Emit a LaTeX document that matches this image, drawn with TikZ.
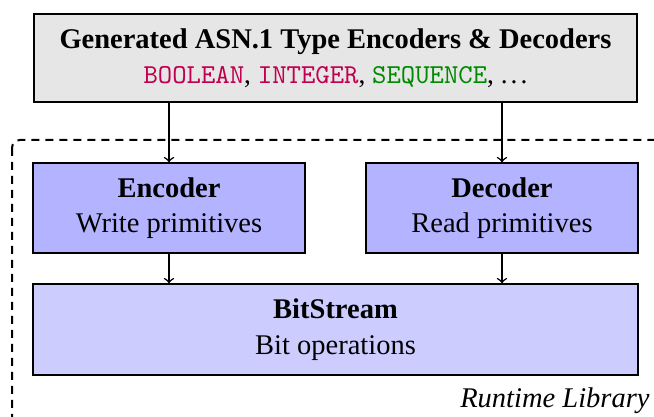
\documentclass[tikz,border=0pt,11pt]{standalone}
\usepackage{fontspec}
\setmainfont{Liberation Serif}
\setmonofont{Latin Modern Mono}
\definecolor{kwpurple}{HTML}{C0004F}
\definecolor{kwgreen}{HTML}{008A00}
\definecolor{boxgray}{HTML}{E6E6E6}
\definecolor{boxblue}{HTML}{B3B3FF}
\definecolor{boxlight}{HTML}{CCCCFF}
\newcommand\boxfont{\fontsize{11.4}{14.2}\selectfont}
\tikzset{
  blockbox/.style={draw=black, line width=0.45pt, align=center, inner sep=0pt, font=\boxfont},
  flowarrow/.style={->, line width=0.6pt},
  libframe/.style={draw=black, line width=0.8pt, dash pattern=on 3.2pt off 2.4pt, rounded corners=3.2pt}
}
\begin{document}
\begin{tikzpicture}[x=0.4pt,y=-0.4pt]
\useasboundingbox (0,0) rectangle (654,417);
\clip (0,0) rectangle (654,417);
\draw[libframe] (12,140) rectangle (680,440);
\node[blockbox, fill=boxgray, minimum width=241.2pt, minimum height=35.2pt] (gen) at (335.5,58)
  {\textbf{Generated ASN.1 Type Encoders \& Decoders}\\
   {\fontsize{10.95}{14.2}\selectfont\texttt{\textcolor{kwpurple}{BOOLEAN}}, \texttt{\textcolor{kwpurple}{INTEGER}}, \texttt{\textcolor{kwgreen}{SEQUENCE}}, .\kern1.2pt.\kern1.2pt.}};
\node[blockbox, fill=boxblue, minimum width=108.8pt, minimum height=36pt] (enc) at (169,208)
  {\textbf{Encoder}\\Write primitives};
\node[blockbox, fill=boxblue, minimum width=108.8pt, minimum height=36pt] (dec) at (502,208)
  {\textbf{Decoder}\\Read primitives};
\node[blockbox, fill=boxlight, minimum width=242pt, minimum height=36.4pt] (bits) at (335.5,329.5)
  {\textbf{BitStream}\\Bit operations};
\node[anchor=base east, inner sep=0pt, font=\boxfont\itshape] (lib) at (650,408) {Runtime Library};
\draw[flowarrow] (gen.south -| enc.north) -- (enc.north);
\draw[flowarrow] (gen.south -| dec.north) -- (dec.north);
\draw[flowarrow] (enc.south) -- (bits.north -| enc.south);
\draw[flowarrow] (dec.south) -- (bits.north -| dec.south);
\end{tikzpicture}
\end{document}
